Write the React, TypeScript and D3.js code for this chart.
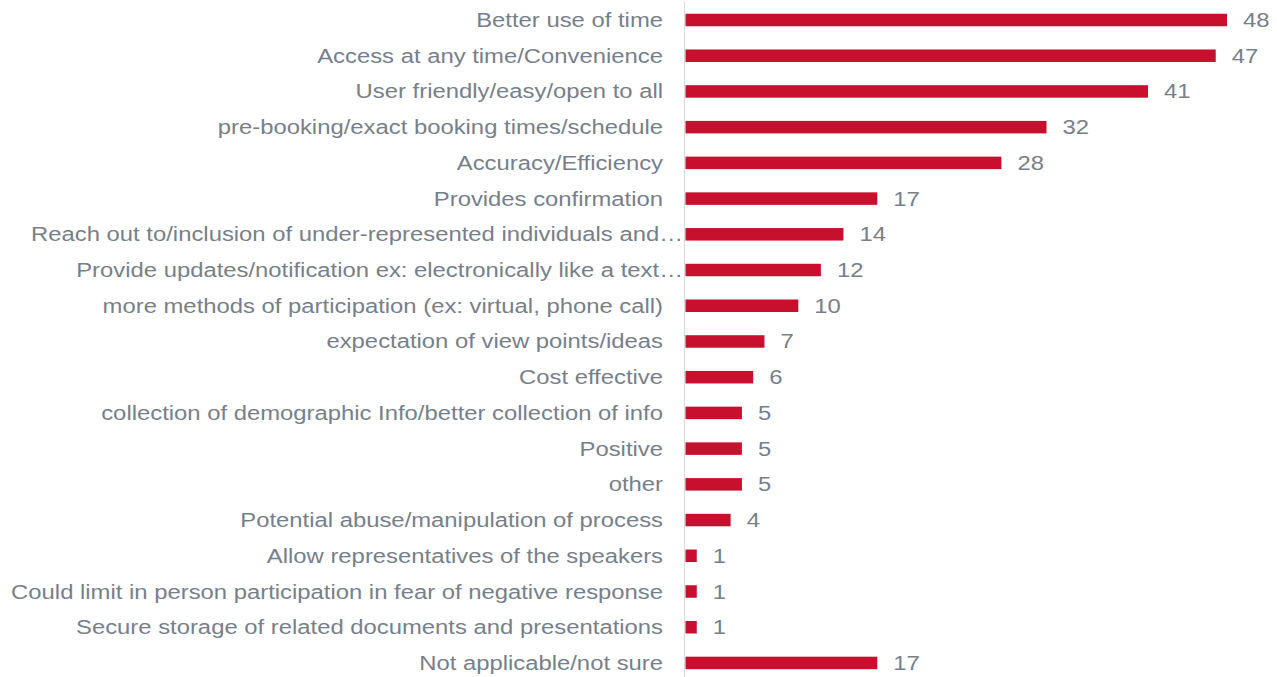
import React from "react";
import * as d3 from "d3";

const categories: string[] = [
  "Better use of time",
  "Access at any time/Convenience",
  "User friendly/easy/open to all",
  "pre-booking/exact booking times/schedule",
  "Accuracy/Efficiency",
  "Provides confirmation",
  "Reach out to/inclusion of under-represented individuals and…",
  "Provide updates/notification ex: electronically like a text…",
  "more methods of participation (ex: virtual, phone call)",
  "expectation of view points/ideas",
  "Cost effective",
  "collection of demographic Info/better collection of info",
  "Positive",
  "other",
  "Potential abuse/manipulation of process",
  "Allow representatives of the speakers",
  "Could limit in person participation in fear of negative response",
  "Secure storage of related documents and presentations",
  "Not applicable/not sure",
];

const values: number[] = [48, 47, 41, 32, 28, 17, 14, 12, 10, 7, 6, 5, 5, 5, 4, 1, 1, 1, 17];

const W = 1277;
const H = 677;
const TEXT_COLOR = "#77808A";
const BAR_COLOR = "#C8102E";
const SX = 1.192;

export default function App() {
  const y = d3.scaleBand<string>().domain(categories).range([2.14, 680.8]).padding(0);
  const x = d3.scaleLinear().domain([0, 48]).range([685.5, 1227]);
  const barH = y.bandwidth() * 0.35;
  const axisX = 684.5;

  return (
    <svg
      width={W}
      height={H}
      style={{ position: "absolute", left: 0, top: 0, background: "#fff" }}
      fontFamily="'Liberation Sans', Arial, sans-serif"
      fontSize={20}
    >
      <line x1={axisX} x2={axisX} y1={2} y2={H} stroke="#D9D9D9" strokeWidth={1} />
      {categories.map((c, i) => {
        const cy = (y(c) as number) + y.bandwidth() / 2;
        const v = values[i];
        const endX = c.endsWith("…") ? 683 : 663;
        return (
          <g key={c}>
            <rect
              x={x(0)}
              y={cy - barH / 2}
              width={x(v) - x(0)}
              height={barH}
              fill={BAR_COLOR}
            />
            <text
              transform={`translate(${endX},${cy}) scale(${SX},1)`}
              dy="0.35em"
              textAnchor="end"
              fill={TEXT_COLOR}
            >
              {c}
            </text>
            <text
              transform={`translate(${x(v) + 16},${cy}) scale(${SX},1)`}
              dy="0.35em"
              textAnchor="start"
              fill={TEXT_COLOR}
            >
              {v}
            </text>
          </g>
        );
      })}
    </svg>
  );
}
